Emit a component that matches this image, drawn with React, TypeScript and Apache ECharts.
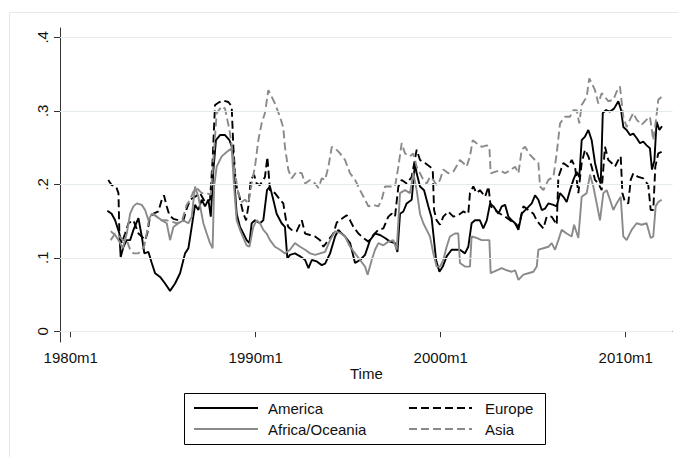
import React, { useEffect, useRef } from "react";
import * as echarts from "echarts";

const xTicks = [1980, 1990, 2000, 2010];
const yTicks = [0, 0.1, 0.2, 0.3, 0.4];

const america: [number, number][] = [
  [1981.98, 0.164], [1982.21, 0.16], [1982.4, 0.151], [1982.63, 0.133], [1982.7, 0.101], [1982.85, 0.115],
  [1983.03, 0.124], [1983.21, 0.124], [1983.39, 0.138], [1983.66, 0.154], [1983.84, 0.129], [1983.98, 0.106],
  [1984.2, 0.108], [1984.38, 0.093], [1984.56, 0.079], [1984.83, 0.074], [1985.1, 0.065], [1985.37, 0.055],
  [1985.64, 0.065], [1985.91, 0.079], [1986.18, 0.106], [1986.36, 0.113], [1986.54, 0.142], [1986.72, 0.172],
  [1986.9, 0.165], [1987.08, 0.179], [1987.26, 0.17], [1987.44, 0.179], [1987.57, 0.156], [1987.71, 0.219],
  [1987.85, 0.26], [1988.07, 0.267], [1988.34, 0.267], [1988.58, 0.26], [1988.76, 0.247], [1988.88, 0.192],
  [1988.97, 0.16], [1989.15, 0.142], [1989.33, 0.133], [1989.51, 0.124], [1989.66, 0.12], [1989.78, 0.147],
  [1989.96, 0.151], [1990.23, 0.147], [1990.41, 0.151], [1990.61, 0.192], [1990.77, 0.197], [1990.95, 0.179],
  [1991.13, 0.16], [1991.4, 0.147], [1991.58, 0.142], [1991.71, 0.099], [1991.85, 0.104], [1992.12, 0.106],
  [1992.4, 0.102], [1992.67, 0.097], [1992.85, 0.086], [1993.03, 0.097], [1993.3, 0.095], [1993.57, 0.09],
  [1993.75, 0.092], [1994.02, 0.106], [1994.29, 0.129], [1994.47, 0.138], [1994.65, 0.133], [1994.83, 0.129],
  [1995.1, 0.12], [1995.37, 0.093], [1995.64, 0.097], [1995.91, 0.104], [1996.18, 0.124], [1996.45, 0.133],
  [1996.72, 0.131], [1996.99, 0.127], [1997.26, 0.122], [1997.53, 0.12], [1997.66, 0.108], [1997.8, 0.16],
  [1997.98, 0.163], [1998.16, 0.174], [1998.43, 0.179], [1998.61, 0.229], [1998.7, 0.215], [1998.88, 0.197],
  [1999.1, 0.192], [1999.33, 0.17], [1999.51, 0.154], [1999.6, 0.133], [1999.75, 0.097], [1999.93, 0.081],
  [2000.11, 0.088], [2000.32, 0.102], [2000.59, 0.111], [2000.86, 0.111], [2001.04, 0.111], [2001.31, 0.106],
  [2001.49, 0.115], [2001.67, 0.147], [2001.85, 0.151], [2002.12, 0.151], [2002.3, 0.14], [2002.49, 0.151],
  [2002.67, 0.174], [2002.85, 0.17], [2003.12, 0.16], [2003.3, 0.17], [2003.48, 0.172], [2003.66, 0.156],
  [2003.84, 0.151], [2004.02, 0.147], [2004.2, 0.138], [2004.38, 0.16], [2004.65, 0.167], [2004.92, 0.174],
  [2005.1, 0.185], [2005.28, 0.179], [2005.46, 0.165], [2005.64, 0.167], [2005.82, 0.174], [2006.09, 0.172],
  [2006.27, 0.17], [2006.45, 0.188], [2006.63, 0.183], [2006.81, 0.176], [2006.99, 0.192], [2007.17, 0.206],
  [2007.35, 0.217], [2007.49, 0.21], [2007.62, 0.26], [2007.8, 0.265], [2007.98, 0.274], [2008.16, 0.26],
  [2008.34, 0.229], [2008.52, 0.21], [2008.65, 0.201], [2008.76, 0.297], [2008.94, 0.301], [2009.15, 0.299],
  [2009.37, 0.303], [2009.6, 0.313], [2009.75, 0.301], [2009.87, 0.278], [2010.05, 0.274], [2010.23, 0.267],
  [2010.41, 0.269], [2010.59, 0.263], [2010.77, 0.256], [2010.95, 0.258], [2011.13, 0.253], [2011.31, 0.249],
  [2011.42, 0.22], [2011.55, 0.232], [2011.67, 0.285], [2011.82, 0.274], [2011.96, 0.279],
];

const europe: [number, number][] = [
  [1982.03, 0.206], [1982.21, 0.199], [1982.45, 0.197], [1982.58, 0.188], [1982.63, 0.133], [1982.76, 0.12],
  [1982.94, 0.133], [1983.12, 0.147], [1983.39, 0.151], [1983.66, 0.133], [1983.84, 0.129], [1984.02, 0.124],
  [1984.14, 0.133], [1984.25, 0.151], [1984.47, 0.16], [1984.74, 0.163], [1984.92, 0.179], [1985.04, 0.185],
  [1985.19, 0.17], [1985.33, 0.158], [1985.55, 0.153], [1985.82, 0.151], [1986.09, 0.151], [1986.27, 0.167],
  [1986.45, 0.179], [1986.72, 0.183], [1986.99, 0.188], [1987.26, 0.176], [1987.53, 0.179], [1987.67, 0.233],
  [1987.8, 0.308], [1987.98, 0.311], [1988.25, 0.314], [1988.52, 0.312], [1988.7, 0.306], [1988.79, 0.251],
  [1988.92, 0.201], [1989.12, 0.183], [1989.33, 0.16], [1989.48, 0.151], [1989.6, 0.17], [1989.73, 0.206],
  [1989.91, 0.213], [1990.05, 0.201], [1990.23, 0.199], [1990.5, 0.21], [1990.63, 0.237], [1990.77, 0.192],
  [1991.04, 0.188], [1991.31, 0.179], [1991.49, 0.174], [1991.64, 0.151], [1991.76, 0.142], [1991.94, 0.138],
  [1992.21, 0.136], [1992.49, 0.151], [1992.67, 0.133], [1992.94, 0.131], [1993.21, 0.129], [1993.48, 0.124],
  [1993.66, 0.115], [1993.93, 0.124], [1994.2, 0.133], [1994.38, 0.148], [1994.65, 0.153], [1994.92, 0.158],
  [1995.1, 0.151], [1995.28, 0.142], [1995.55, 0.133], [1995.82, 0.127], [1996.09, 0.122], [1996.36, 0.131],
  [1996.63, 0.138], [1996.9, 0.14], [1997.17, 0.156], [1997.35, 0.16], [1997.53, 0.156], [1997.71, 0.197],
  [1997.89, 0.206], [1998.16, 0.201], [1998.43, 0.21], [1998.7, 0.247], [1998.88, 0.233], [1999.15, 0.229],
  [1999.42, 0.224], [1999.57, 0.22], [1999.64, 0.165], [1999.78, 0.151], [1999.96, 0.145], [2000.14, 0.156],
  [2000.41, 0.163], [2000.68, 0.156], [2000.95, 0.158], [2001.22, 0.163], [2001.49, 0.16], [2001.58, 0.188],
  [2001.76, 0.197], [2001.94, 0.188], [2002.12, 0.192], [2002.4, 0.183], [2002.58, 0.197], [2002.7, 0.17],
  [2002.94, 0.165], [2003.21, 0.16], [2003.48, 0.156], [2003.75, 0.151], [2004.02, 0.147], [2004.2, 0.142],
  [2004.47, 0.17], [2004.74, 0.165], [2005.01, 0.16], [2005.19, 0.151], [2005.37, 0.145], [2005.55, 0.14],
  [2005.73, 0.156], [2006.0, 0.156], [2006.27, 0.145], [2006.36, 0.21], [2006.63, 0.229], [2006.9, 0.224],
  [2007.08, 0.233], [2007.26, 0.224], [2007.44, 0.188], [2007.62, 0.229], [2007.8, 0.247], [2007.98, 0.238],
  [2008.16, 0.224], [2008.34, 0.206], [2008.52, 0.201], [2008.7, 0.192], [2008.88, 0.251], [2009.06, 0.233],
  [2009.24, 0.229], [2009.42, 0.224], [2009.6, 0.233], [2009.73, 0.238], [2009.82, 0.188], [2009.96, 0.176],
  [2010.14, 0.174], [2010.27, 0.206], [2010.41, 0.215], [2010.68, 0.21], [2010.95, 0.208], [2011.22, 0.199],
  [2011.35, 0.165], [2011.49, 0.165], [2011.6, 0.224], [2011.76, 0.242], [2011.94, 0.244],
];

const africaOceania: [number, number][] = [
  [1982.16, 0.136], [1982.4, 0.131], [1982.63, 0.122], [1982.81, 0.113], [1983.03, 0.133], [1983.21, 0.16],
  [1983.39, 0.17], [1983.57, 0.174], [1983.84, 0.172], [1984.02, 0.165], [1984.2, 0.151], [1984.38, 0.16],
  [1984.65, 0.156], [1984.92, 0.151], [1985.19, 0.147], [1985.37, 0.124], [1985.55, 0.142], [1985.82, 0.147],
  [1986.09, 0.151], [1986.36, 0.147], [1986.54, 0.156], [1986.72, 0.197], [1986.9, 0.183], [1987.17, 0.147],
  [1987.35, 0.133], [1987.53, 0.12], [1987.67, 0.113], [1987.75, 0.197], [1987.89, 0.224], [1988.16, 0.238],
  [1988.43, 0.244], [1988.7, 0.249], [1988.83, 0.197], [1988.97, 0.151], [1989.15, 0.138], [1989.33, 0.127],
  [1989.51, 0.117], [1989.66, 0.115], [1989.87, 0.142], [1990.05, 0.151], [1990.23, 0.147], [1990.41, 0.138],
  [1990.59, 0.133], [1990.77, 0.124], [1991.04, 0.115], [1991.31, 0.111], [1991.58, 0.106], [1991.85, 0.111],
  [1992.12, 0.12], [1992.4, 0.115], [1992.67, 0.111], [1992.94, 0.106], [1993.21, 0.104], [1993.48, 0.106],
  [1993.75, 0.108], [1994.02, 0.124], [1994.29, 0.136], [1994.56, 0.134], [1994.83, 0.129], [1995.1, 0.115],
  [1995.37, 0.106], [1995.64, 0.097], [1995.91, 0.088], [1996.05, 0.077], [1996.27, 0.097], [1996.45, 0.111],
  [1996.63, 0.12], [1996.9, 0.117], [1997.17, 0.122], [1997.44, 0.124], [1997.62, 0.111], [1997.8, 0.188],
  [1998.07, 0.192], [1998.34, 0.188], [1998.52, 0.215], [1998.7, 0.192], [1998.88, 0.16], [1999.06, 0.147],
  [1999.24, 0.138], [1999.42, 0.129], [1999.6, 0.106], [1999.78, 0.088], [1999.96, 0.088], [2000.14, 0.097],
  [2000.32, 0.115], [2000.5, 0.129], [2000.77, 0.133], [2000.95, 0.133], [2001.04, 0.093], [2001.31, 0.088],
  [2001.58, 0.088], [2001.67, 0.129], [2001.94, 0.127], [2002.21, 0.124], [2002.49, 0.124], [2002.63, 0.124],
  [2002.7, 0.079], [2003.03, 0.083], [2003.3, 0.086], [2003.57, 0.083], [2003.84, 0.081], [2004.02, 0.083],
  [2004.2, 0.07], [2004.47, 0.077], [2004.74, 0.079], [2005.01, 0.081], [2005.19, 0.088], [2005.28, 0.111],
  [2005.55, 0.113], [2005.82, 0.115], [2006.0, 0.12], [2006.18, 0.111], [2006.36, 0.124], [2006.54, 0.138],
  [2006.81, 0.133], [2007.08, 0.129], [2007.21, 0.145], [2007.44, 0.127], [2007.62, 0.183], [2007.89, 0.188],
  [2008.07, 0.213], [2008.25, 0.197], [2008.43, 0.174], [2008.61, 0.151], [2008.79, 0.188], [2008.97, 0.192],
  [2009.15, 0.179], [2009.33, 0.165], [2009.51, 0.174], [2009.73, 0.183], [2009.87, 0.129], [2010.05, 0.124],
  [2010.32, 0.138], [2010.59, 0.147], [2010.86, 0.145], [2011.13, 0.147], [2011.35, 0.127], [2011.49, 0.129],
  [2011.62, 0.17], [2011.76, 0.176], [2011.94, 0.179],
];

const asia: [number, number][] = [
  [1982.16, 0.124], [1982.4, 0.133], [1982.63, 0.129], [1982.81, 0.124], [1983.03, 0.124], [1983.21, 0.111],
  [1983.39, 0.106], [1983.66, 0.106], [1983.84, 0.111], [1983.96, 0.115], [1984.11, 0.133], [1984.25, 0.156],
  [1984.47, 0.16], [1984.65, 0.156], [1984.92, 0.151], [1985.19, 0.151], [1985.46, 0.149], [1985.73, 0.147],
  [1986.0, 0.149], [1986.27, 0.172], [1986.45, 0.179], [1986.63, 0.19], [1986.81, 0.195], [1987.08, 0.188],
  [1987.35, 0.188], [1987.57, 0.186], [1987.71, 0.233], [1987.89, 0.297], [1988.16, 0.306], [1988.34, 0.303],
  [1988.58, 0.274], [1988.76, 0.242], [1988.88, 0.215], [1989.06, 0.188], [1989.24, 0.176], [1989.42, 0.179],
  [1989.6, 0.174], [1989.78, 0.201], [1989.96, 0.224], [1990.14, 0.26], [1990.32, 0.283], [1990.5, 0.297],
  [1990.68, 0.328], [1990.77, 0.324], [1991.04, 0.31], [1991.31, 0.292], [1991.49, 0.277], [1991.58, 0.251],
  [1991.76, 0.22], [1991.94, 0.208], [1992.21, 0.217], [1992.49, 0.215], [1992.67, 0.201], [1992.94, 0.206],
  [1993.21, 0.201], [1993.39, 0.195], [1993.57, 0.208], [1993.75, 0.206], [1993.93, 0.224], [1994.11, 0.251],
  [1994.29, 0.249], [1994.56, 0.242], [1994.83, 0.233], [1995.1, 0.215], [1995.37, 0.206], [1995.64, 0.192],
  [1995.91, 0.179], [1996.09, 0.17], [1996.36, 0.172], [1996.63, 0.17], [1996.81, 0.179], [1996.99, 0.197],
  [1997.26, 0.197], [1997.53, 0.197], [1997.71, 0.224], [1997.89, 0.256], [1998.07, 0.242], [1998.34, 0.238],
  [1998.52, 0.242], [1998.7, 0.224], [1998.88, 0.215], [1999.06, 0.206], [1999.24, 0.201], [1999.42, 0.21],
  [1999.6, 0.206], [1999.78, 0.199], [1999.96, 0.206], [2000.14, 0.22], [2000.41, 0.215], [2000.68, 0.217],
  [2000.95, 0.229], [2001.04, 0.233], [2001.22, 0.229], [2001.4, 0.224], [2001.58, 0.238], [2001.73, 0.26],
  [2001.94, 0.256], [2002.21, 0.251], [2002.49, 0.253], [2002.63, 0.251], [2002.7, 0.215], [2002.94, 0.217],
  [2003.21, 0.219], [2003.48, 0.215], [2003.75, 0.219], [2004.02, 0.224], [2004.2, 0.215], [2004.38, 0.247],
  [2004.56, 0.251], [2004.83, 0.24], [2005.1, 0.233], [2005.28, 0.229], [2005.37, 0.197], [2005.55, 0.192],
  [2005.82, 0.206], [2006.09, 0.21], [2006.27, 0.242], [2006.45, 0.283], [2006.72, 0.292], [2006.99, 0.292],
  [2007.17, 0.301], [2007.35, 0.301], [2007.49, 0.283], [2007.62, 0.308], [2007.89, 0.319], [2008.03, 0.344],
  [2008.16, 0.338], [2008.34, 0.328], [2008.52, 0.31], [2008.7, 0.324], [2008.88, 0.319], [2009.06, 0.313],
  [2009.33, 0.315], [2009.51, 0.326], [2009.69, 0.333], [2009.87, 0.292], [2010.05, 0.278], [2010.23, 0.288],
  [2010.41, 0.297], [2010.59, 0.288], [2010.86, 0.281], [2011.13, 0.288], [2011.31, 0.292], [2011.49, 0.26],
  [2011.64, 0.288], [2011.76, 0.315], [2011.94, 0.319],
];

const FONT = "Liberation Sans, Arial, Helvetica, sans-serif";
const GRAY = "#8a8a8a";

export default function App() {
  const ref = useRef<HTMLDivElement>(null);
  useEffect(() => {
    document.body.style.margin = "0";
    const chart = echarts.init(ref.current!, undefined, { renderer: "svg" });
    const lineSeries = (name: string, data: [number, number][], color: string, dashed: boolean) => ({
      name,
      type: "line",
      data,
      showSymbol: false,
      symbol: "none",
      legendIcon: "none",
      z: 3,
      lineStyle: { color, width: 1.9, type: dashed ? [8, 4] : "solid" },
      itemStyle: { color },
    });
    const legendBase = {
      orient: "vertical",
      top: 400.5,
      padding: 0,
      itemHeight: 15,
      itemGap: 6,
      itemStyle: { opacity: 0, borderWidth: 0 },
      selectedMode: false,
    };
    chart.setOption({
      animation: false,
      backgroundColor: "#ffffff",
      grid: { left: 60, right: 5.3, top: 28, bottom: 115, containLabel: false },
      xAxis: {
        type: "value",
        min: 1979.42,
        max: 2012.54,
        axisLine: { show: true, lineStyle: { color: "#333", width: 1 } },
        axisTick: { show: true, length: 6, lineStyle: { color: "#333" }, customValues: xTicks },
        axisLabel: {
          customValues: xTicks,
          formatter: (v: number) => `${Math.round(v)}m1`,
          fontFamily: FONT,
          fontSize: 15,
          color: "#111",
          margin: 8,
        },
        splitLine: { show: false },
        name: "Time",
        nameLocation: "middle",
        nameGap: 24,
        nameMoveOverlap: false,
        nameTextStyle: { fontFamily: FONT, fontSize: 15, color: "#111", verticalAlign: "top" },
      },
      yAxis: {
        type: "value",
        min: -0.0146,
        max: 0.4127,
        axisLine: { show: true, lineStyle: { color: "#333", width: 1 } },
        axisTick: { show: true, length: 6, lineStyle: { color: "#333" }, customValues: yTicks },
        axisLabel: {
          customValues: yTicks,
          rotate: 90,
          formatter: (v: number) => (Math.abs(v) < 1e-9 ? "0" : "." + Math.round(v * 10)),
          fontFamily: FONT,
          fontSize: 15,
          color: "#111",
          margin: 10,
        },
        splitLine: { show: false },
      },
      legend: [
        {
          ...legendBase,
          data: ["America", "Africa/Oceania"],
          left: 193,
          itemWidth: 64,
          textStyle: { fontFamily: FONT, fontSize: 15, color: "#111", padding: [0, 0, 0, 5] },
        },
        {
          ...legendBase,
          data: ["Europe", "Asia"],
          left: 408,
          itemWidth: 63,
          textStyle: { fontFamily: FONT, fontSize: 15, color: "#111", padding: [0, 0, 0, 8] },
        },
      ],
      graphic: [
        {
          type: "rect",
          shape: { x: 9.5, y: 12.5, width: 700, height: 500 },
          style: { fill: "none", stroke: "#e4eaec", lineWidth: 1 },
          silent: true,
          z: -1,
        },
        {
          type: "rect",
          shape: { x: 184.5, y: 393.5, width: 361, height: 51 },
          style: { fill: "none", stroke: "#000", lineWidth: 1 },
          silent: true,
        },
      ],
      series: [
        {
          name: "grid",
          type: "line",
          data: [],
          z: 1,
          silent: true,
          markLine: {
            silent: true,
            symbol: "none",
            label: { show: false },
            lineStyle: { color: "#e3ebed", width: 1, type: "solid" },
            data: yTicks.map((v) => ({ yAxis: v })),
          },
        },
        lineSeries("America", america, "#000000", false),
        lineSeries("Europe", europe, "#000000", true),
        lineSeries("Africa/Oceania", africaOceania, GRAY, false),
        lineSeries("Asia", asia, GRAY, true),
      ],
    });
    return () => chart.dispose();
  }, []);
  return <div ref={ref} style={{ width: 678, height: 457 }} />;
}
